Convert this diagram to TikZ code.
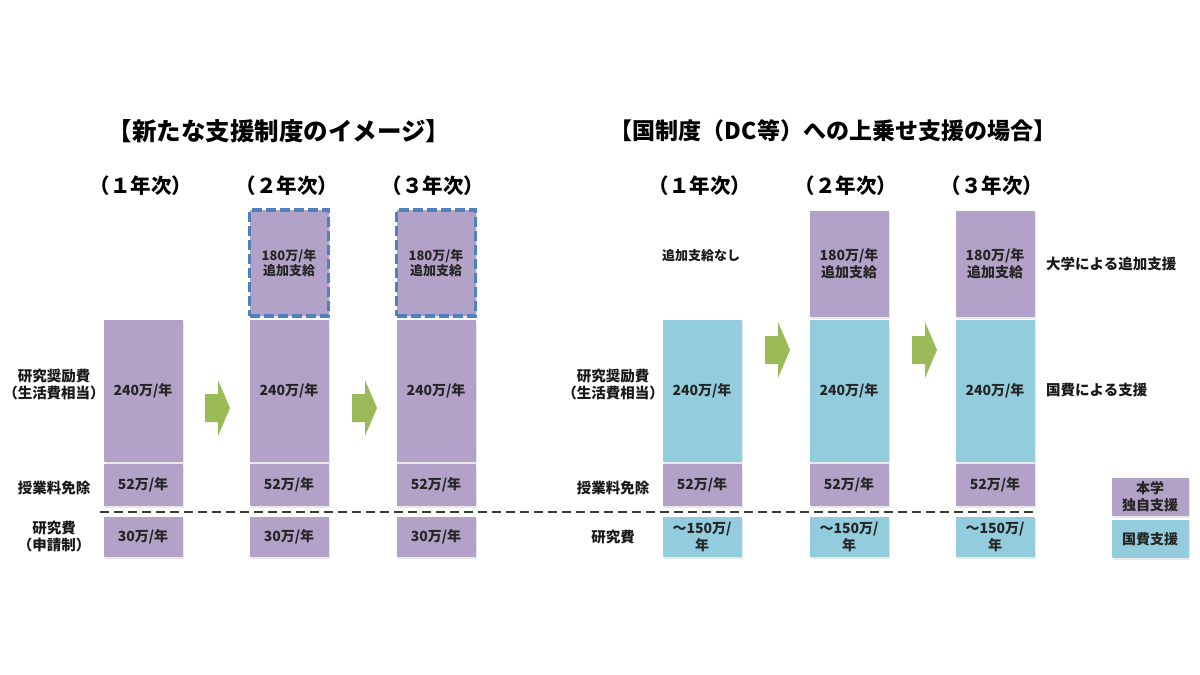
\documentclass[tikz,border=0pt]{standalone}
\usepackage{fontspec}
\setmainfont{Noto Sans CJK JP}
\usetikzlibrary{shadows}
\definecolor{ownpurple}{HTML}{B2A2C7}
\definecolor{natcyan}{HTML}{93CDDD}
\definecolor{arrowgreen}{HTML}{9BBB59}
\definecolor{dashblue}{HTML}{4F81BD}
\definecolor{divgray}{HTML}{3A3A3A}
\tikzset{cell/.style = {minimum width=79, inner sep=0pt, align=center, text=black!85,
                        font=\bfseries\fontsize{14}{17}\selectfont,
                        drop shadow={shadow xshift=1pt, shadow yshift=-1.5pt, opacity=0.18}}}
\tikzset{own/.style = {cell, fill=ownpurple}}
\tikzset{nat/.style = {cell, fill=natcyan}}
\tikzset{extra/.style = {own, draw=dashblue, line width=3.5pt, dash pattern=on 10pt off 4pt,
                         font=\bfseries\fontsize{13}{15}\selectfont}}
\tikzset{rowlabel/.style = {align=center, inner sep=0pt, text=black!90,
                            font=\bfseries\fontsize{14.5}{17}\selectfont}}
\tikzset{yearlabel/.style = {inner sep=0pt, font=\bfseries\fontsize{20.5}{24}\selectfont}}
\tikzset{titlelabel/.style = {inner sep=0pt, font=\bfseries\fontsize{23}{27}\selectfont}}
\tikzset{flowarrow/.style = {fill=arrowgreen}}
\tikzset{divider/.style = {draw=divgray, line width=2.6pt, dash pattern=on 9pt off 5pt}}

\begin{document}
\begin{tikzpicture}[x=1pt, y=-1pt]
			\fill[white] (0,0) rectangle (1200,675);
			\useasboundingbox (0,0) rectangle (1200,675);
			% left: new support scheme
			\node[titlelabel, font=\bfseries\fontsize{24.5}{28}\selectfont] (ltitle) at (279, 131) {【新たな支援制度のイメージ】};
			\node[yearlabel] (lyear1) at (141, 186) {（１年次）};
			\node[yearlabel] (lyear2) at (287, 186) {（２年次）};
			\node[yearlabel] (lyear3) at (433, 186) {（３年次）};
			\node[rowlabel] (lrow1) at (54, 385) {研究奨励費\\（生活費相当）};
			\node[rowlabel] (lrow2) at (54, 488) {授業料免除};
			\node[rowlabel] (lrow3) at (54, 537) {研究費\\（申請制）};
			\node[extra, minimum height=106] (ladd2) at (289, 263) {180万/年\\追加支給};
			\node[extra, minimum height=106] (ladd3) at (436, 263) {180万/年\\追加支給};
			\node[own, minimum height=142] (lliv1) at (143, 391) {240万/年};
			\node[own, minimum height=142] (lliv2) at (289, 391) {240万/年};
			\node[own, minimum height=142] (lliv3) at (436, 391) {240万/年};
			\node[own, minimum height=42] (lfee1) at (143, 485) {52万/年};
			\node[own, minimum height=42] (lfee2) at (289, 485) {52万/年};
			\node[own, minimum height=42] (lfee3) at (436, 485) {52万/年};
			\node[own, minimum height=40] (lres1) at (143, 537) {30万/年};
			\node[own, minimum height=40] (lres2) at (289, 537) {30万/年};
			\node[own, minimum height=40] (lres3) at (436, 537) {30万/年};
			\fill[flowarrow] (205, 394) -- ++(13, 0) -- ++(0, -14) -- ++(12, 28) -- ++(-12, 28) -- ++(0, -14) -- ++(-13, 0) -- cycle;
			\fill[flowarrow] (352, 394) -- ++(13, 0) -- ++(0, -14) -- ++(12, 28) -- ++(-12, 28) -- ++(0, -14) -- ++(-13, 0) -- cycle;
			% right: top-up on national scheme
			\node[titlelabel] (rtitle) at (833, 131) {【国制度（DC等）への上乗せ支援の場合】};
			\node[yearlabel] (ryear1) at (700, 186) {（１年次）};
			\node[yearlabel] (ryear2) at (846, 186) {（２年次）};
			\node[yearlabel] (ryear3) at (992, 186) {（３年次）};
			\node[rowlabel] (rrow1) at (613, 385) {研究奨励費\\（生活費相当）};
			\node[rowlabel] (rrow2) at (613, 488) {授業料免除};
			\node[rowlabel] (rrow3) at (613, 537) {研究費};
			\node[rowlabel, font=\bfseries\fontsize{13}{16}\selectfont] (rnone) at (701, 256) {追加支給なし};
			\node[own, minimum height=106] (radd2) at (849, 264) {180万/年\\追加支給};
			\node[own, minimum height=106] (radd3) at (995, 264) {180万/年\\追加支給};
			\node[nat, minimum height=142] (rliv1) at (702, 391) {240万/年};
			\node[nat, minimum height=142] (rliv2) at (849, 391) {240万/年};
			\node[nat, minimum height=142] (rliv3) at (995, 391) {240万/年};
			\node[own, minimum height=42] (rfee1) at (702, 485) {52万/年};
			\node[own, minimum height=42] (rfee2) at (849, 485) {52万/年};
			\node[own, minimum height=42] (rfee3) at (995, 485) {52万/年};
			\node[nat, minimum height=40] (rres1) at (702, 537) {～150万/\\年};
			\node[nat, minimum height=40] (rres2) at (849, 537) {～150万/\\年};
			\node[nat, minimum height=40] (rres3) at (995, 537) {～150万/\\年};
			\fill[flowarrow] (765, 336) -- ++(13, 0) -- ++(0, -14) -- ++(12, 28) -- ++(-12, 28) -- ++(0, -14) -- ++(-13, 0) -- cycle;
			\fill[flowarrow] (912, 336) -- ++(13, 0) -- ++(0, -14) -- ++(12, 28) -- ++(-12, 28) -- ++(0, -14) -- ++(-13, 0) -- cycle;
			\node[rowlabel, anchor=west] (runi) at (1046, 264) {大学による追加支援};
			\node[rowlabel, anchor=west] (rgov) at (1046, 390) {国費による支援};
			% legend
			\node[own, minimum width=77, minimum height=38] (keyown) at (1150, 497) {本学\\独自支援};
			\node[nat, minimum width=77, minimum height=38] (keynat) at (1150, 539) {国費支援};
			% divider between fee and research rows
			\coordinate (divstart) at (100, 512);
			\coordinate (divend) at (1035, 512);
			\draw[divider] (divstart) -- (divend);
		\end{tikzpicture}
\end{document}
